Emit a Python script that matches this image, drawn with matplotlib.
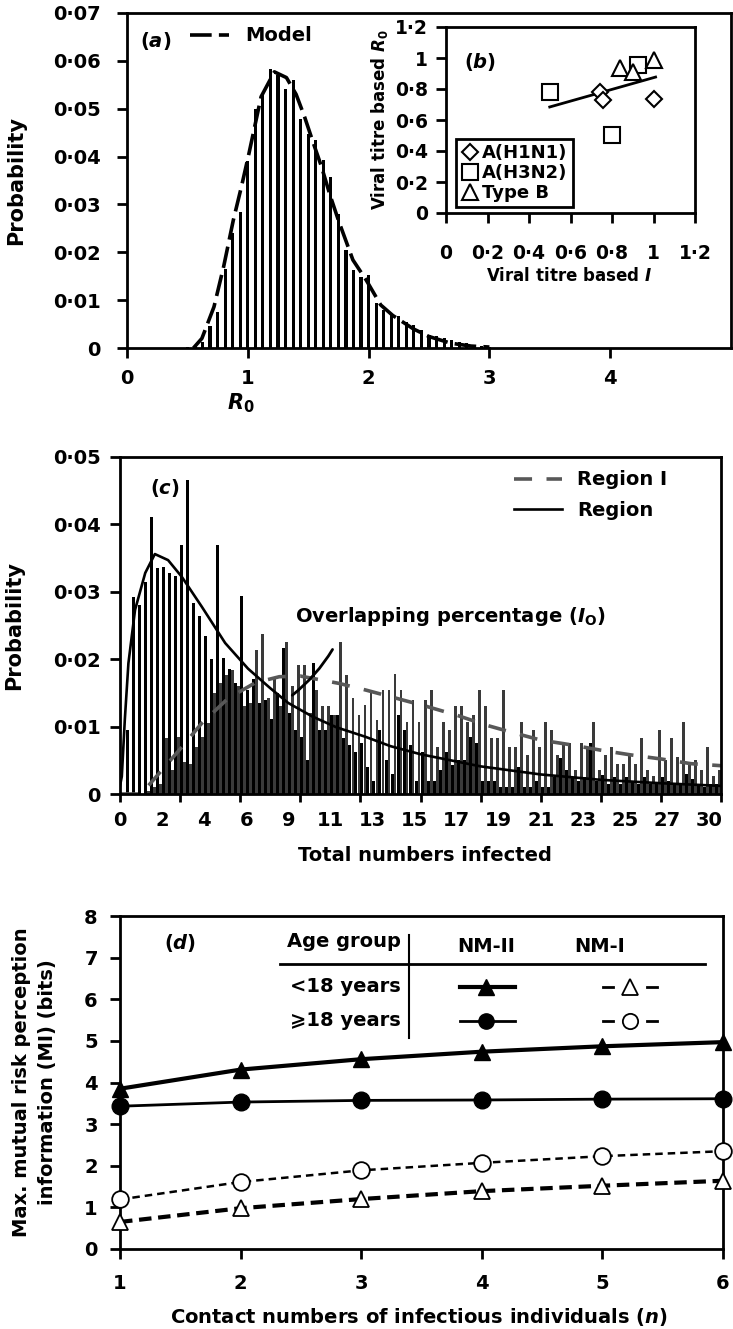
import numpy as np
import matplotlib
matplotlib.use('Agg')
import matplotlib.pyplot as plt

plt.rcParams['font.family'] = 'DejaVu Sans'
plt.rcParams['font.weight'] = 'bold'
plt.rcParams['axes.labelweight'] = 'bold'
plt.rcParams['mathtext.fontset'] = 'custom'
plt.rcParams['mathtext.rm'] = 'DejaVu Sans:bold'
plt.rcParams['mathtext.it'] = 'DejaVu Sans:italic:bold'
plt.rcParams['mathtext.bf'] = 'DejaVu Sans:bold'
plt.rcParams['axes.linewidth'] = 2

# ---- panel (a): R0 histogram + model ----
r0_bins = [0.5, 0.5625, 0.625, 0.6875, 0.75, 0.8125, 0.875, 0.9375, 1.0, 1.0625,
           1.125, 1.1875, 1.25, 1.3125, 1.375, 1.4375, 1.5, 1.5625, 1.625, 1.6875,
           1.75, 1.8125, 1.875, 1.9375, 2.0, 2.0625, 2.125, 2.1875, 2.25, 2.3125,
           2.375, 2.4375, 2.5, 2.5625, 2.625, 2.6875, 2.75, 2.8125, 2.875, 2.9375, 3.0]
r0_prob = [0.0002, 0.0005, 0.0012, 0.0045, 0.0076, 0.0166, 0.0240, 0.0285, 0.0390, 0.0500,
           0.0528, 0.0584, 0.0570, 0.0542, 0.0561, 0.0478, 0.0448, 0.0434, 0.0393, 0.0358,
           0.0281, 0.0205, 0.0163, 0.0149, 0.0152, 0.0093, 0.0079, 0.0072, 0.0066, 0.0055,
           0.0048, 0.0038, 0.0027, 0.0025, 0.0020, 0.0017, 0.0013, 0.0010, 0.0006, 0.0004, 0.0003]
model_r0 = [0.55, 0.62, 0.72, 0.80, 0.88, 0.95, 1.01, 1.11, 1.22, 1.32, 1.40, 1.47, 1.54,
            1.61, 1.68, 1.75, 1.87, 1.98, 2.10, 2.20, 2.37, 2.50, 2.68, 2.85, 3.0]
model_prob = [0.0, 0.002, 0.0086, 0.017, 0.0267, 0.034, 0.0407, 0.0525, 0.0577, 0.0565,
              0.0530, 0.0483, 0.0430, 0.0379, 0.032, 0.0267, 0.0184, 0.0142, 0.0090, 0.0068,
              0.0040, 0.0024, 0.0010, 0.0004, 0.0002]
a_yticks = [0, 0.01, 0.02, 0.03, 0.04, 0.05, 0.06, 0.07]
a_yticklabels = ['0', '0·01', '0·02', '0·03', '0·04', '0·05', '0·06', '0·07']

# ---- panel (b): viral titre scatter ----
h1n1_x = [0.74, 0.758, 1.0]
h1n1_y = [0.783, 0.729, 0.735]
h3n2_x = [0.50, 0.80, 0.927]
h3n2_y = [0.778, 0.503, 0.955]
typeb_x = [0.839, 0.90, 1.0]
typeb_y = [0.933, 0.912, 0.987]
fit_x = [0.50, 1.01]
fit_y = [0.684, 0.877]
b_ticks = [0, 0.2, 0.4, 0.6, 0.8, 1.0, 1.2]
b_ticklabels = ['0', '0·2', '0·4', '0·6', '0·8', '1', '1·2']

# ---- panel (c): total numbers infected ----
region_prob = [0.0, 0.0095, 0.0293, 0.0280, 0.0315, 0.0411, 0.0336, 0.0337, 0.0328, 0.0323,
               0.0370, 0.0466, 0.0284, 0.0264, 0.0234, 0.0200, 0.0370, 0.0202, 0.0185, 0.0165,
               0.0294, 0.0155, 0.0170, 0.0135, 0.0140, 0.0112, 0.0150, 0.0216, 0.0120, 0.0095,
               0.0085, 0.0050, 0.0194, 0.0095, 0.0095, 0.0117, 0.0117, 0.0083, 0.0073, 0.0063,
               0.0075, 0.0040, 0.0020, 0.0095, 0.0050, 0.0030, 0.0117, 0.0095, 0.0073, 0.0020,
               0.0063, 0.0020, 0.0020, 0.0035, 0.0063, 0.0043, 0.0050, 0.0050, 0.0085, 0.0075,
               0.0020, 0.0020, 0.0020, 0.0011, 0.0011, 0.0011, 0.0040, 0.0011, 0.0011, 0.0020,
               0.0011, 0.0011, 0.0025, 0.0053, 0.0036, 0.0025, 0.0020, 0.0025, 0.0075, 0.0020,
               0.0028, 0.0015, 0.0025, 0.0015, 0.0025, 0.0020, 0.0015, 0.0025, 0.0015, 0.0015,
               0.0025, 0.0020, 0.0015, 0.0015, 0.0030, 0.0022, 0.0015, 0.0010, 0.0015, 0.0015]
region1_prob = [0.0, 0.0, 0.0, 0.0, 0.0005, 0.0010, 0.0015, 0.0083, 0.0035, 0.0085,
                0.0048, 0.0045, 0.0070, 0.0085, 0.0105, 0.0150, 0.0164, 0.0177, 0.0184, 0.0160,
                0.0130, 0.0135, 0.0214, 0.0238, 0.0142, 0.0170, 0.0130, 0.0226, 0.0160, 0.0191,
                0.0191, 0.0120, 0.0154, 0.0130, 0.0130, 0.0117, 0.0226, 0.0177, 0.0142, 0.0117,
                0.0132, 0.0154, 0.0110, 0.0154, 0.0154, 0.0178, 0.0154, 0.0107, 0.0140, 0.0107,
                0.0140, 0.0154, 0.0070, 0.0107, 0.0095, 0.0130, 0.0130, 0.0107, 0.0117, 0.0154,
                0.0130, 0.0083, 0.0083, 0.0154, 0.0070, 0.0070, 0.0107, 0.0058, 0.0095, 0.0070,
                0.0107, 0.0095, 0.0058, 0.0075, 0.0075, 0.0036, 0.0075, 0.0070, 0.0107, 0.0036,
                0.0058, 0.0070, 0.0045, 0.0045, 0.0060, 0.0045, 0.0083, 0.0036, 0.0026, 0.0095,
                0.0050, 0.0083, 0.0055, 0.0107, 0.0045, 0.0050, 0.0036, 0.0070, 0.0026, 0.0036]
region_fit_x = [0, 0.3, 0.8, 1.4, 2.5, 4.2, 5.8, 8, 10.3, 13.6, 17.5, 21.3, 25, 28, 32, 36,
                40.8, 45, 50, 60, 70, 80, 90, 100]
region_fit_y = [0.0012, 0.0026, 0.011, 0.0194, 0.0273, 0.0328, 0.0356, 0.0347, 0.0322, 0.0278,
                0.0224, 0.0186, 0.0157, 0.0135, 0.0115, 0.0099, 0.0085, 0.0071, 0.0059, 0.0041,
                0.0029, 0.0021, 0.0016, 0.0012]
region1_fit_x = [0, 3.5, 4.4, 8, 10.8, 13.6, 18, 22.5, 26.5, 30, 36.5, 41, 46, 51, 56, 61, 65,
                 70, 75, 80, 85, 90, 95, 100]
region1_fit_y = [0.0, 0.0, 0.0009, 0.0046, 0.0075, 0.0105, 0.0142, 0.0165, 0.0174, 0.0175,
                 0.0164, 0.0154, 0.0142, 0.0130, 0.0117, 0.0102, 0.0092, 0.0080, 0.0073, 0.0065,
                 0.0058, 0.0052, 0.0045, 0.0042]
c_xlabel_pos = [0, 7, 14, 21, 28, 35, 42, 49, 56, 63, 70, 77, 84, 91, 98]
c_xlabels = ['0', '2', '4', '6', '9', '11', '13', '15', '17', '19', '21', '23', '25', '27', '30']
c_yticks = [0, 0.01, 0.02, 0.03, 0.04, 0.05]
c_yticklabels = ['0', '0·01', '0·02', '0·03', '0·04', '0·05']

# ---- panel (d): mutual information ----
contacts = [1, 2, 3, 4, 5, 6]
nm2_under18 = [3.85, 4.31, 4.56, 4.74, 4.87, 4.97]
nm2_over18 = [3.43, 3.53, 3.57, 3.58, 3.60, 3.61]
nm1_under18 = [0.65, 0.98, 1.20, 1.39, 1.52, 1.64]
nm1_over18 = [1.19, 1.61, 1.89, 2.07, 2.23, 2.35]

W, H = 733, 1329


def box(x0, y0, x1, y1):
    return [x0 / W, 1 - y1 / H, (x1 - x0) / W, (y1 - y0) / H]


fig = plt.figure(figsize=(7.33, 13.29), dpi=100)
ax_a = fig.add_axes(box(127, 13, 731, 348))
ax_b = fig.add_axes(box(446, 27, 695, 213))
ax_c = fig.add_axes(box(120, 457, 721, 794))
ax_d = fig.add_axes(box(120, 916, 723, 1249))

# (a)
ax_a.bar(r0_bins, r0_prob, width=0.026, color='black', lw=0)
ax_a.plot(model_r0, model_prob, color='black', lw=2.6, dashes=(6, 2), label='Model')
ax_a.set_xlim(0, 5)
ax_a.set_ylim(0, 0.07)
ax_a.set_xticks([0, 1, 2, 3, 4])
ax_a.set_yticks(a_yticks, a_yticklabels)
ax_a.tick_params(direction='out', length=7, width=2, labelsize=14)
ax_a.tick_params(axis='y', pad=12)
ax_a.tick_params(axis='x', pad=8)
ax_a.set_ylabel('Probability', fontsize=15)
ax_a.yaxis.set_label_coords(-0.167, 0.5)
ax_a.set_xlabel(r'$\mathit{R}_0$', fontsize=15)
ax_a.xaxis.set_label_coords(0.189, -0.13)
ax_a.text(0.048, 0.915, r'($\mathit{a}$)', transform=ax_a.transAxes, fontsize=14,
          ha='center', va='center')
ax_a.legend(loc='upper left', bbox_to_anchor=(0.105, 0.96), frameon=False, fontsize=14,
            handlelength=2.0, handletextpad=0.8, borderpad=0, borderaxespad=0)

# (b)
ax_b.plot(fit_x, fit_y, color='black', lw=2)
ax_b.plot(h1n1_x, h1n1_y, ls='none', marker='D', ms=8, mfc='white', mec='black', mew=1.5,
          label='A(H1N1)')
ax_b.plot(h3n2_x, h3n2_y, ls='none', marker='s', ms=11, mfc='white', mec='black', mew=1.5,
          label='A(H3N2)')
ax_b.plot(typeb_x, typeb_y, ls='none', marker='^', ms=12, mfc='white', mec='black', mew=1.5,
          label='Type B')
ax_b.set_xlim(0, 1.2)
ax_b.set_ylim(0, 1.2)
ax_b.set_xticks(b_ticks, b_ticklabels)
ax_b.set_yticks(b_ticks, b_ticklabels)
ax_b.tick_params(direction='out', length=7, width=2, labelsize=13.5)
ax_b.tick_params(axis='x', pad=15)
ax_b.tick_params(axis='y', pad=6)
ax_b.set_xlabel(r'Viral titre based $\mathit{I}$', fontsize=12)
ax_b.xaxis.set_label_coords(0.494, -0.29)
ax_b.set_ylabel(r'Viral titre based $\mathit{R}_0$', fontsize=12)
ax_b.yaxis.set_label_coords(-0.225, 0.5)
ax_b.text(0.137, 0.81, r'($\mathit{b}$)', transform=ax_b.transAxes, fontsize=14,
          ha='center', va='center')
leg_b = ax_b.legend(loc='lower left', bbox_to_anchor=(0.04, 0.03), frameon=True, fancybox=False,
                    edgecolor='black', framealpha=1, fontsize=13, handlelength=0.9,
                    handletextpad=0.25, borderpad=0.3, labelspacing=0.1, borderaxespad=0)
leg_b.get_frame().set_linewidth(2)

# (c)
cats = np.arange(len(region_prob))
ax_c.bar(cats + 0.26, region_prob, width=0.5, color='black', lw=0)
ax_c.bar(cats + 0.76, region1_prob, width=0.48, color='#3a3a3a', lw=0)
ax_c.plot(region1_fit_x, region1_fit_y, color='#585858', lw=2.6, dashes=(5, 4), label='Region I')
ax_c.plot(region_fit_x, region_fit_y, color='black', lw=1.9, label='Region')
ax_c.set_xlim(0, 100)
ax_c.set_ylim(0, 0.05)
ax_c.xaxis.remove_overlapping_locs = False
ax_c.set_xticks(range(0, 101, 10))
ax_c.set_xticks(c_xlabel_pos, c_xlabels, minor=True)
ax_c.tick_params(axis='x', which='major', labelbottom=False, direction='out', length=6, width=2)
ax_c.tick_params(axis='x', which='minor', length=0, pad=12, labelsize=14)
ax_c.set_yticks(c_yticks, c_yticklabels)
ax_c.tick_params(axis='y', direction='out', length=7, width=2, labelsize=14, pad=7)
ax_c.set_ylabel('Probability', fontsize=15)
ax_c.yaxis.set_label_coords(-0.16, 0.5)
ax_c.set_xlabel('Total numbers infected', fontsize=14)
ax_c.xaxis.set_label_coords(0.507, -0.155)
ax_c.text(0.075, 0.908, r'($\mathit{c}$)', transform=ax_c.transAxes, fontsize=14,
          ha='center', va='center')
ax_c.annotate('', xy=(28.3, 0.0144), xytext=(35.6, 0.0218),
              arrowprops=dict(arrowstyle='-', lw=2, color='black', connectionstyle='arc3,rad=-0.1'))
ax_c.text(29.1, 0.0263, r'Overlapping percentage ($\mathit{I}_{\mathrm{O}}$)', fontsize=14,
          ha='left', va='center')
ax_c.legend(loc='upper left', bbox_to_anchor=(0.655, 0.96), frameon=False, fontsize=14,
            handlelength=2.5, handletextpad=0.75, borderpad=0, borderaxespad=0, labelspacing=0.6)

# (d)
ax_d.plot(contacts, nm2_under18, color='black', lw=3, marker='^', ms=11, clip_on=False, zorder=3)
ax_d.plot(contacts, nm2_over18, color='black', lw=2, marker='o', ms=12, clip_on=False, zorder=3)
ax_d.plot(contacts, nm1_under18, color='black', lw=3, dashes=(3, 1.6), marker='^', ms=12,
          mfc='white', mew=1.3, clip_on=False, zorder=3)
ax_d.plot(contacts, nm1_over18, color='black', lw=1.8, dashes=(3, 2), marker='o', ms=12,
          mfc='white', mew=1.3, clip_on=False, zorder=3)
ax_d.set_xlim(1, 6)
ax_d.set_ylim(0, 8)
ax_d.set_xticks(contacts)
ax_d.set_yticks(range(0, 9))
ax_d.tick_params(direction='out', length=7, width=2, labelsize=14)
ax_d.tick_params(axis='x', pad=11)
ax_d.tick_params(axis='y', pad=9)
ax_d.set_ylabel('Max. mutual risk perception\ninformation (MI) (bits)', fontsize=14,
                linespacing=1.5)
ax_d.yaxis.set_label_coords(-0.104, 0.5)
ax_d.set_xlabel(r'Contact numbers of infectious individuals ($\mathit{n}$)', fontsize=14)
ax_d.xaxis.set_label_coords(0.496, -0.17)
ax_d.text(0.1, 0.919, r'($\mathit{d}$)', transform=ax_d.transAxes, fontsize=14,
          ha='center', va='center')

# table-style key in (d)
tr = ax_d.transAxes
ax_d.text(0.466, 0.922, 'Age group', transform=tr, fontsize=14, ha='right', va='center')
ax_d.text(0.607, 0.907, 'NM-II', transform=tr, fontsize=14, ha='center', va='center')
ax_d.text(0.796, 0.907, 'NM-I', transform=tr, fontsize=14, ha='center', va='center')
ax_d.text(0.466, 0.787, '<18 years', transform=tr, fontsize=14, ha='right', va='center')
ax_d.text(0.466, 0.685, '⩾18 years', transform=tr, fontsize=14, ha='right', va='center')
ax_d.plot([0.265, 0.970], [0.856, 0.856], transform=tr, color='black', lw=2)
ax_d.plot([0.479, 0.479], [0.634, 0.943], transform=tr, color='black', lw=1.5)
for yk, mk, lwk in [(0.787, '^', 3), (0.685, 'o', 2)]:
    ax_d.plot([0.564, 0.655], [yk, yk], transform=tr, color='black', lw=lwk)
    ax_d.plot([0.607], [yk], transform=tr, color='black', marker=mk, ms=11, ls='none')
    ax_d.plot([0.801, 0.818], [yk, yk], transform=tr, color='black', lw=2)
    ax_d.plot([0.874, 0.891], [yk, yk], transform=tr, color='black', lw=2)
    ax_d.plot([0.846], [yk], transform=tr, color='black', marker=mk, ms=11, mfc='white',
              mew=1.3, ls='none')

fig.savefig('out.png', dpi=100)
